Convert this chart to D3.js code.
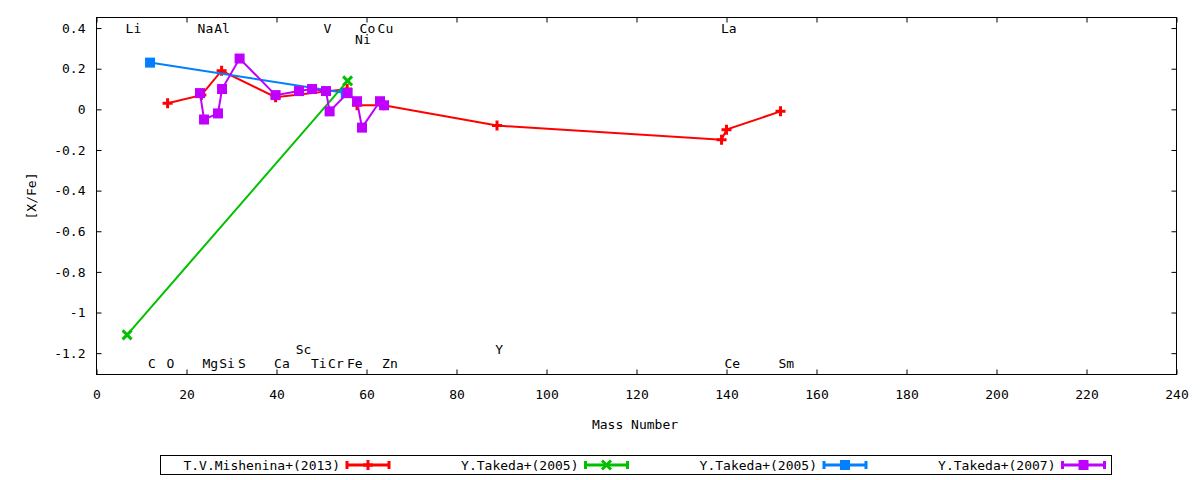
<!DOCTYPE html>
<html>
<head>
    <meta charset="utf-8">
    <title>[X/Fe] vs Mass Number</title>
    <script src="https://d3js.org/d3.v7.min.js"></script>
    <style>
        body { margin: 0; background: #fff; }
        text { font-family: "DejaVu Sans Mono", monospace; font-size: 13px; fill: #000; }
    </style>
</head>
<body>
    <svg id="chart"></svg>
    <script>
        // series: mass number and [X/Fe]
        const seriesNames = ["T.V.Mishenina+(2013)", "Y.Takeda+(2005)", "Y.Takeda+(2005)", "Y.Takeda+(2007)"];
        const seriesColors = ["#ff0000", "#00c000", "#0080ff", "#c000ff"];
        const seriesMarkers = ["plus", "cross", "square", "square"];

        const misheninaMass = [15.8, 23.3, 27.8, 39.8, 55.7, 57.9, 63.8, 89.0, 138.9, 140.0, 152.0];
        const misheninaVal  = [0.03, 0.07, 0.19, 0.06, 0.10, 0.02, 0.02, -0.08, -0.15, -0.10, -0.01];

        const takeda05aMass = [6.8, 55.8];
        const takeda05aVal  = [-1.11, 0.14];

        const takeda05bMass = [11.9, 55.4];
        const takeda05bVal  = [0.23, 0.08];

        const takeda07Mass = [23.0, 23.9, 27.0, 27.9, 31.8, 39.8, 45.0, 47.9, 51.0, 51.8, 55.8, 57.9, 59.0, 63.0, 63.9];
        const takeda07Val  = [0.08, -0.05, -0.02, 0.10, 0.25, 0.07, 0.09, 0.10, 0.09, -0.01, 0.08, 0.04, -0.09, 0.04, 0.02];

        // element labels: name, mass position, [X/Fe] position
        const elemNames = ["Li", "Na", "Al", "V", "Co", "Cu", "La", "Ni",
                           "C", "O", "Mg", "Si", "S", "Ca", "Ti", "Cr", "Fe", "Zn", "Ce", "Sm", "Sc", "Y"];
        const elemMass  = [8.2, 24.2, 27.9, 51.3, 60.2, 64.2, 140.5, 59.2,
                           12.3, 16.4, 25.3, 29.0, 32.3, 41.2, 49.4, 53.2, 57.4, 65.2, 141.3, 153.3, 46.0, 89.5];
        const elemPos   = [0.40, 0.40, 0.40, 0.40, 0.40, 0.40, 0.40, 0.345,
                           -1.25, -1.25, -1.25, -1.25, -1.25, -1.25, -1.25, -1.25, -1.25, -1.25, -1.25, -1.25, -1.18, -1.18];

        const xTicks = d3.range(0, 241, 20);
        const yTicks = [0.4, 0.2, 0, -0.2, -0.4, -0.6, -0.8, -1, -1.2];

        const seriesData = [
            [misheninaMass, misheninaVal],
            [takeda05aMass, takeda05aVal],
            [takeda05bMass, takeda05bVal],
            [takeda07Mass, takeda07Val]
        ].map(([m, v]) => m.map((d, i) => ({ m: d, v: v[i] })));

        const width = 1200, height = 480;
        const plotL = 96.5, plotR = 1176.5, plotT = 17.5, plotB = 374.5;

        const svg = d3.select("#chart").attr("width", width).attr("height", height);

        const x = d3.scaleLinear().domain([0, 240]).range([plotL, plotR]);
        const y = d3.scaleLinear().domain([-1.305, 0.452]).range([plotB, plotT]);

        // ticks (inside, mirrored) and labels
        const fmt = d => String(Math.round(d * 10) / 10);
        svg.append("g").attr("transform", `translate(0,${plotB})`)
            .call(d3.axisBottom(x).tickValues(xTicks).tickSize(-5).tickPadding(15).tickFormat(d3.format("d")))
            .call(g => g.select(".domain").remove());
        svg.append("g").attr("transform", `translate(0,${plotT})`)
            .call(d3.axisTop(x).tickValues(xTicks).tickSize(-5).tickFormat(""))
            .call(g => g.select(".domain").remove());
        svg.append("g").attr("transform", `translate(${plotL},0)`)
            .call(d3.axisLeft(y).tickValues(yTicks).tickSize(-5).tickPadding(11).tickFormat(fmt))
            .call(g => g.select(".domain").remove());
        svg.append("g").attr("transform", `translate(${plotR},0)`)
            .call(d3.axisRight(y).tickValues(yTicks).tickSize(-5).tickFormat(""))
            .call(g => g.select(".domain").remove());
        svg.selectAll(".tick line").attr("stroke", "#000");
        svg.selectAll(".tick text").style("font-family", "DejaVu Sans Mono").style("font-size", "13px");

        svg.append("rect")
            .attr("x", plotL).attr("y", plotT)
            .attr("width", plotR - plotL).attr("height", plotB - plotT)
            .attr("fill", "none").attr("stroke", "#000").attr("stroke-width", 1);

        // axis titles
        svg.append("text")
            .attr("transform", `translate(36,196) rotate(-90)`)
            .attr("text-anchor", "middle")
            .text("[X/Fe]");
        svg.append("text")
            .attr("x", 635).attr("y", 429)
            .attr("text-anchor", "middle")
            .text("Mass Number");

        // element labels
        svg.append("g").selectAll("text")
            .data(elemNames)
            .join("text")
            .attr("x", (d, i) => x(elemMass[i]))
            .attr("y", (d, i) => y(elemPos[i]) + 5)
            .attr("text-anchor", "middle")
            .text(d => d);

        function marker(g, type, color) {
            if (type === "square") {
                g.append("rect").attr("x", -5).attr("y", -5).attr("width", 10).attr("height", 10)
                    .attr("fill", color);
            } else {
                const p = type === "plus" ? "M-5,0H5M0,-5V5" : "M-4.5,-4.5L4.5,4.5M-4.5,4.5L4.5,-4.5";
                g.append("path").attr("d", p).attr("stroke", color).attr("stroke-width", 3).attr("fill", "none");
            }
        }

        const line = d3.line().x(d => x(d.m)).y(d => y(d.v));

        seriesData.forEach((data, s) => {
            const g = svg.append("g");
            g.append("path")
                .datum(data)
                .attr("d", line)
                .attr("fill", "none")
                .attr("stroke", seriesColors[s])
                .attr("stroke-width", 2);
            g.selectAll("g.pt")
                .data(data)
                .join("g")
                .attr("class", "pt")
                .attr("transform", d => `translate(${x(d.m)},${y(d.v)})`)
                .each(function () { marker(d3.select(this), seriesMarkers[s], seriesColors[s]); });
        });

        // legend
        const legend = svg.append("g");
        legend.append("rect")
            .attr("x", 160.5).attr("y", 455.5).attr("width", 951).attr("height", 19)
            .attr("fill", "none").attr("stroke", "#000");
        seriesNames.forEach((name, s) => {
            const cx = 368 + s * 238.5, cy = 465;
            legend.append("text")
                .attr("x", cx - 28).attr("y", cy + 5)
                .attr("text-anchor", "end")
                .text(name);
            const c = seriesColors[s];
            legend.append("path")
                .attr("d", `M${cx - 21},${cy}H${cx + 21}M${cx - 21},${cy - 4}V${cy + 4}M${cx + 21},${cy - 4}V${cy + 4}`)
                .attr("stroke", c).attr("stroke-width", 3).attr("fill", "none");
            const m = legend.append("g").attr("transform", `translate(${cx},${cy})`);
            marker(m, seriesMarkers[s], c);
        });
    </script>
</body>
</html>
